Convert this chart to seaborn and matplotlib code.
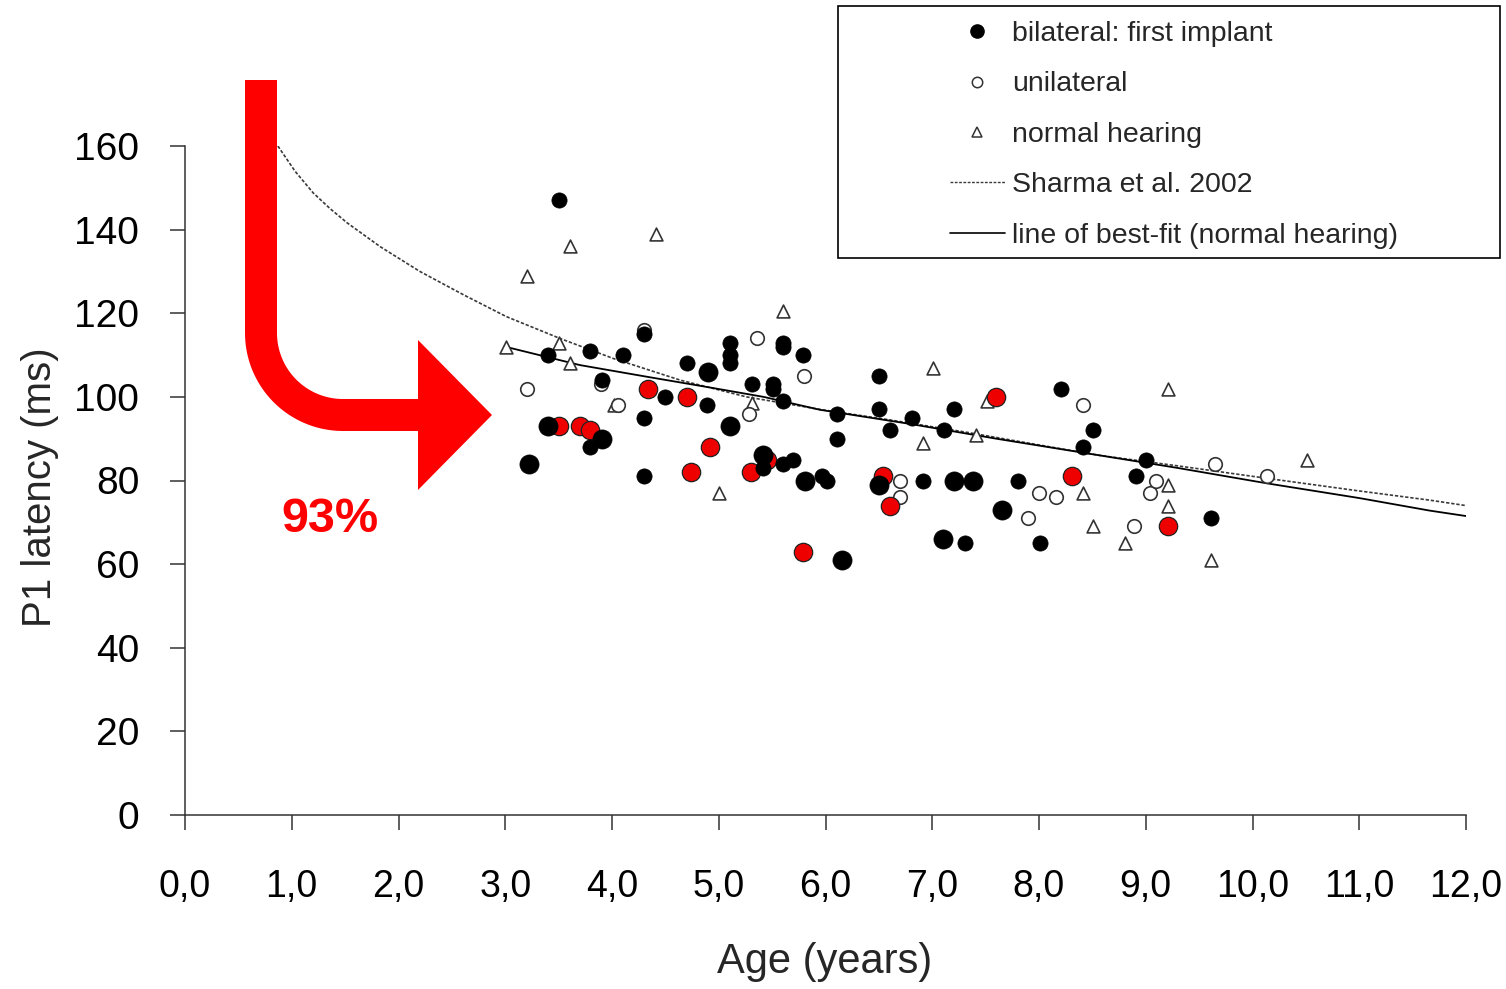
import numpy as np
import pandas as pd
import matplotlib
matplotlib.use("Agg")
import matplotlib.pyplot as plt
from matplotlib.lines import Line2D
from matplotlib.patches import Polygon, Rectangle
import seaborn as sns

# ---------------- data ----------------
big_black_x = [3.22, 3.40, 3.91, 4.90, 5.11, 5.41, 5.81, 6.15, 6.50, 7.10, 7.20, 7.38, 7.65]
big_black_y = [84, 93, 90, 106, 93, 86, 80, 61, 79, 66, 80, 80, 73]

small_black_x = [3.50, 3.40, 3.79, 4.10, 3.91, 3.79, 4.30, 4.30, 4.30, 4.50, 4.70, 4.89,
                 5.11, 5.11, 5.11, 5.31, 5.51, 5.51, 5.60, 5.60, 5.60, 5.79, 5.41, 5.60,
                 5.70, 5.97, 6.01, 6.11, 6.11, 6.50, 6.50, 6.60, 6.81, 6.91, 7.11, 7.20,
                 7.31, 7.80, 8.01, 8.21, 8.41, 8.51, 8.91, 9.00, 9.61]
small_black_y = [147, 110, 111, 110, 104, 88, 115, 95, 81, 100, 108, 98,
                 113, 108, 110, 103, 102, 103, 112, 113, 99, 110, 83, 84,
                 85, 81, 80, 96, 90, 105, 97, 92, 95, 80, 92, 97,
                 65, 80, 65, 102, 88, 92, 81, 85, 71]

red_x = [3.50, 3.70, 3.79, 4.34, 4.70, 4.74, 4.92, 5.30, 5.45, 5.79, 6.54, 6.60, 7.60, 8.31, 9.21]
red_y = [93, 93, 92, 102, 100, 82, 88, 82, 85, 63, 81, 74, 100, 81, 69]

uni_x = [3.20, 3.90, 4.06, 4.30, 5.28, 5.36, 5.80, 6.70, 6.70, 7.90, 8.00, 8.16,
         8.41, 8.89, 9.04, 9.10, 9.65, 10.14]
uni_y = [102, 103, 98, 116, 96, 114, 105, 80, 76, 71, 77, 76,
         98, 69, 77, 80, 84, 81]

nh_x = [3.01, 3.20, 3.50, 3.61, 3.61, 4.02, 4.41, 5.00, 5.31, 5.60, 6.91, 7.01,
        7.41, 7.51, 8.41, 8.51, 8.81, 9.21, 9.21, 9.21, 9.61, 10.51]
nh_y = [112, 129, 113, 136, 108, 98, 139, 77, 98.5, 120.5, 89, 107,
        91, 99, 77, 69, 65, 102, 79, 74, 61, 85]

sharma_x = [0.87, 1.03, 1.20, 1.36, 1.52, 1.83, 2.20, 2.61, 3.01, 3.51, 4.01, 4.64, 5.26,
            5.95, 6.60, 7.33, 8.00, 8.57, 9.30, 10.14, 11.00, 11.66, 12.00]
sharma_y = [160, 154.0, 148.8, 145.0, 141.6, 135.9, 130.0, 124.4, 119.2, 114.0, 109.2, 104.0,
            100.0, 97.0, 94.5, 91.5, 88.5, 86.0, 83.5, 80.5, 77.5, 75.3, 74.0]

fit_x = [3.00, 3.70, 4.33, 4.95, 5.42, 5.95, 6.80, 7.60, 8.57, 9.30, 10.14, 11.00, 11.66, 12.00]
fit_y = [112.0, 107.6, 104.8, 102.1, 100.0, 96.9, 93.5, 90.0, 86.0, 83.0, 79.3, 75.8, 72.8, 71.5]

x_ticks = list(range(0, 13))
x_tick_labels = ["0,0", "1,0", "2,0", "3,0", "4,0", "5,0", "6,0", "7,0", "8,0",
                 "9,0", "10,0", "11,0", "12,0"]
y_ticks = list(range(0, 161, 20))
y_tick_labels = [str(v) for v in y_ticks]

legend_labels = ["bilateral: first implant", "unilateral", "normal hearing",
                 "Sharma et al. 2002", "line of best-fit (normal hearing)"]
annotation_text = "93%"

# ---------------- style ----------------
sns.set_style("white")
FONT = ["Liberation Sans Narrow", "Liberation Sans", "DejaVu Sans"]
plt.rcParams["font.family"] = FONT

W, H = 1506, 989
fig = plt.figure(figsize=(W / 100, H / 100), dpi=100)
ax = fig.add_axes([185 / W, 1 - 815 / H, (1466 - 185) / W, (815 - 146) / H])

# lines
sns.lineplot(x=sharma_x, y=sharma_y, ax=ax, color="#3a3a3a", lw=1.2,
             linestyle=(0, (2.0, 1.1)), sort=False, estimator=None, zorder=2)
sns.lineplot(x=fit_x, y=fit_y, ax=ax, color="black", lw=1.3,
             sort=False, estimator=None, zorder=2)

# scatter series
sns.scatterplot(x=nh_x, y=nh_y, ax=ax, marker="^", s=85, facecolor="white",
                edgecolor="#333333", linewidth=1.2, zorder=3)
sns.scatterplot(x=uni_x, y=uni_y, ax=ax, marker="o", s=95, facecolor="white",
                edgecolor="#333333", linewidth=1.2, zorder=4)
sns.scatterplot(x=red_x, y=red_y, ax=ax, marker="o", s=175, facecolor="#ee0000",
                edgecolor="#222222", linewidth=0.9, zorder=5)
sns.scatterplot(x=small_black_x, y=small_black_y, ax=ax, marker="o", s=120,
                facecolor="black", edgecolor="black", linewidth=0.5, zorder=6)
sns.scatterplot(x=big_black_x, y=big_black_y, ax=ax, marker="o", s=190,
                facecolor="black", edgecolor="black", linewidth=0.5, zorder=7)

for c in ax.collections:
    c.set_clip_on(False)

ax.set_xlim(0, 12)
ax.set_ylim(0, 160)
ax.set_xticks(x_ticks)
ax.set_xticklabels(x_tick_labels)
ax.set_yticks(y_ticks)
ax.set_yticklabels(y_tick_labels)
ax.tick_params(axis="both", which="major", length=11, width=1.1,
               color="#333333", labelcolor="black")
ax.tick_params(axis="y", pad=22, labelsize=28)
ax.tick_params(axis="x", pad=28, labelsize=27)
ax.tick_params(left=True, bottom=True)
for side in ["top", "right"]:
    ax.spines[side].set_visible(False)
for side in ["left", "bottom"]:
    ax.spines[side].set_color("#333333")
    ax.spines[side].set_linewidth(1.1)

ax.set_xlabel("Age (years)", fontsize=30)
ax.set_ylabel("P1 latency (ms)", fontsize=29)
ax.xaxis.set_label_coords(0.499, -0.19)
ax.yaxis.set_label_coords(-0.098, 0.49)

# legend (custom handles, frame drawn separately)
handles = [
    Line2D([], [], linestyle="none", marker="o", markersize=9.5, markerfacecolor="black",
           markeredgecolor="black"),
    Line2D([], [], linestyle="none", marker="o", markersize=7.5, markerfacecolor="white",
           markeredgecolor="#333333", markeredgewidth=1.1),
    Line2D([], [], linestyle="none", marker="^", markersize=7.5, markerfacecolor="white",
           markeredgecolor="#333333", markeredgewidth=1.1),
    Line2D([], [], color="#3a3a3a", lw=1.0, linestyle=(0, (2.0, 1.1))),
    Line2D([], [], color="black", lw=1.2),
]
leg = ax.legend(handles, legend_labels, loc="upper left",
                bbox_to_anchor=(950 / W, 1 - 21 / H), bbox_transform=fig.transFigure,
                frameon=False, fontsize=20.5, handlelength=1.93, handletextpad=0.25,
                labelspacing=0.86, borderpad=0.0, borderaxespad=0.0)
fig.add_artist(Rectangle((838 / W, 1 - 258 / H), (1500 - 838) / W, (258 - 6) / H,
                         transform=fig.transFigure, fill=False, edgecolor="black",
                         linewidth=1.2))

# red bent arrow annotation (pixel geometry -> figure fraction)
cx, cy = 343.0, 333.0
r_out, r_in = 98.0, 66.0
t = np.linspace(0, np.pi / 2, 40)
pts = [(245, 80), (245, 333)]
pts += [(cx - r_out * np.cos(a), cy + r_out * np.sin(a)) for a in t]
pts += [(418, 431), (418, 490), (492, 415), (418, 340), (418, 399)]
pts += [(cx - r_in * np.cos(a), cy + r_in * np.sin(a)) for a in t[::-1]]
pts += [(277, 80)]
poly = np.array([(px / W, 1 - py / H) for px, py in pts])
fig.add_artist(Polygon(poly, closed=True, transform=fig.transFigure,
                       facecolor="#ff0000", edgecolor="none"))
fig.text(330 / W, 1 - 519 / H, annotation_text, color="#ff0000", fontsize=35,
         fontweight="bold", family=["Liberation Sans", "DejaVu Sans"],
         ha="center", va="center")

fig.savefig("out.png", dpi=100)
